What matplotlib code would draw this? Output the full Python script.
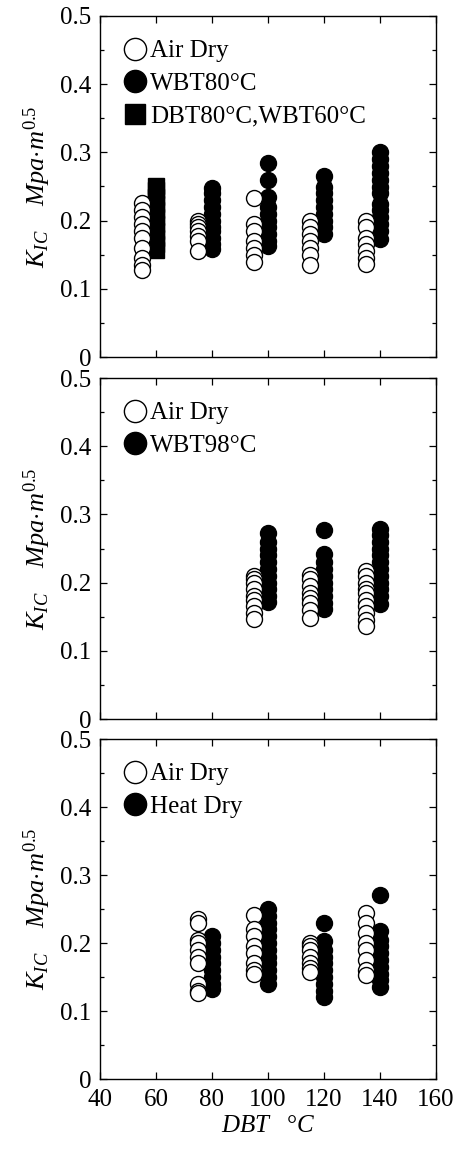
import matplotlib
matplotlib.use("Agg")
import matplotlib.pyplot as plt
from matplotlib.lines import Line2D
from matplotlib.ticker import MultipleLocator

plt.rcParams['font.family'] = ['Liberation Serif', 'DejaVu Serif']
plt.rcParams['mathtext.fontset'] = 'custom'
plt.rcParams['mathtext.rm'] = 'Liberation Serif'
plt.rcParams['mathtext.it'] = 'Liberation Serif:italic'

# ---------------- data ----------------
# Panel 1 : Air Dry / WBT80°C / DBT80°C,WBT60°C
p1_air_x = [55, 75, 95, 115, 135]
p1_air_y = [
    [0.226, 0.215, 0.205, 0.195, 0.185, 0.175, 0.16, 0.145, 0.135, 0.128],
    [0.2, 0.195, 0.19, 0.185, 0.178, 0.17, 0.155],
    [0.233, 0.195, 0.185, 0.17, 0.16, 0.15, 0.14],
    [0.2, 0.19, 0.18, 0.17, 0.16, 0.15, 0.135],
    [0.2, 0.19, 0.175, 0.165, 0.155, 0.145, 0.137],
]
p1_wbt_x = [80, 100, 120, 140]
p1_wbt_y = [
    [0.158, 0.165, 0.175, 0.185, 0.19, 0.2, 0.21, 0.22, 0.23, 0.24, 0.248],
    [0.163, 0.17, 0.18, 0.19, 0.2, 0.21, 0.22, 0.235, 0.26, 0.284],
    [0.18, 0.19, 0.2, 0.21, 0.22, 0.23, 0.24, 0.25, 0.265],
    [0.173, 0.185, 0.195, 0.205, 0.215, 0.225, 0.24, 0.25, 0.26, 0.27, 0.28, 0.29, 0.3],
]
p1_dbt_x = [60]
p1_dbt_y = [
    [0.157, 0.165, 0.175, 0.185, 0.195, 0.205, 0.215, 0.225, 0.235, 0.245, 0.251],
]

# Panel 2 : Air Dry / WBT98°C
p2_air_x = [95, 115, 135]
p2_air_y = [
    [0.21, 0.205, 0.2, 0.19, 0.18, 0.175, 0.165, 0.155, 0.147],
    [0.211, 0.205, 0.195, 0.185, 0.178, 0.17, 0.16, 0.148],
    [0.217, 0.21, 0.2, 0.19, 0.185, 0.175, 0.165, 0.155, 0.145, 0.136],
]
p2_wbt_x = [100, 120, 140]
p2_wbt_y = [
    [0.172, 0.18, 0.19, 0.2, 0.21, 0.22, 0.23, 0.24, 0.25, 0.26, 0.273],
    [0.161, 0.17, 0.18, 0.19, 0.2, 0.21, 0.22, 0.23, 0.242, 0.277],
    [0.169, 0.18, 0.19, 0.2, 0.21, 0.22, 0.23, 0.24, 0.25, 0.26, 0.27, 0.279],
]

# Panel 3 : Air Dry / Heat Dry
p3_air_x = [75, 95, 115, 135]
p3_air_y = [
    [0.235, 0.23, 0.205, 0.2, 0.19, 0.18, 0.17, 0.14, 0.13, 0.126],
    [0.241, 0.22, 0.21, 0.195, 0.185, 0.17, 0.16, 0.154],
    [0.2, 0.195, 0.19, 0.18, 0.17, 0.163, 0.157],
    [0.244, 0.23, 0.215, 0.2, 0.19, 0.175, 0.16, 0.153],
]
p3_heat_x = [80, 100, 120, 140]
p3_heat_y = [
    [0.132, 0.14, 0.15, 0.16, 0.17, 0.18, 0.19, 0.2, 0.21],
    [0.14, 0.15, 0.16, 0.17, 0.18, 0.19, 0.2, 0.21, 0.22, 0.23, 0.24, 0.25],
    [0.12, 0.13, 0.14, 0.15, 0.16, 0.17, 0.18, 0.19, 0.203, 0.229],
    [0.135, 0.145, 0.155, 0.165, 0.175, 0.185, 0.195, 0.205, 0.218, 0.27],
]

x_ticks = [40, 60, 80, 100, 120, 140, 160]
y_ticks = [0, 0.1, 0.2, 0.3, 0.4, 0.5]
y_ticklabels = ['0', '0.1', '0.2', '0.3', '0.4', '0.5']

# ---------------- figure ----------------
W, H = 457, 1149
fig = plt.figure(figsize=(W / 100, H / 100), dpi=100)

def ax_rect(top_px, bot_px):
    left = 100 / W
    width = 336 / W
    return [left, 1 - bot_px / H, width, (bot_px - top_px) / H]

axes = [fig.add_axes(ax_rect(16, 357)),
        fig.add_axes(ax_rect(378, 719)),
        fig.add_axes(ax_rect(739, 1079))]

MS = 11.5   # data marker size (points)
FS = 18

def draw_group(ax, xs, ys, kind):
    for x, col in zip(xs, ys):
        xx = [x] * len(col)
        if kind == 'open':
            ax.plot(xx, col, linestyle='none', marker='o', ms=MS, mfc='white',
                    mec='black', mew=1.0, zorder=4)
        elif kind == 'filled':
            ax.plot(xx, col, linestyle='none', marker='o', ms=MS, mfc='black',
                    mec='black', mew=1.0, zorder=3)
        else:
            ax.plot(xx, col, linestyle='none', marker='s', ms=MS, mfc='black',
                    mec='black', mew=1.0, zorder=3)

draw_group(axes[0], p1_wbt_x, p1_wbt_y, 'filled')
draw_group(axes[0], p1_dbt_x, p1_dbt_y, 'square')
draw_group(axes[0], p1_air_x, p1_air_y, 'open')
draw_group(axes[1], p2_wbt_x, p2_wbt_y, 'filled')
draw_group(axes[1], p2_air_x, p2_air_y, 'open')
draw_group(axes[2], p3_heat_x, p3_heat_y, 'filled')
draw_group(axes[2], p3_air_x, p3_air_y, 'open')

def h_open():
    return Line2D([], [], linestyle='none', marker='o', ms=16, mfc='white', mec='black', mew=1.0)

def h_fill():
    return Line2D([], [], linestyle='none', marker='o', ms=16, mfc='black', mec='black', mew=1.0)

def h_sq():
    return Line2D([], [], linestyle='none', marker='s', ms=14, mfc='black', mec='black', mew=1.0)

legends = [
    ([h_open(), h_fill(), h_sq()], ['Air Dry', 'WBT80°C', 'DBT80°C,WBT60°C']),
    ([h_open(), h_fill()], ['Air Dry', 'WBT98°C']),
    ([h_open(), h_fill()], ['Air Dry', 'Heat Dry']),
]

ylabel = r'$K_{IC}\ \ \ \ Mpa{\cdot}m^{0.5}$'

for i, ax in enumerate(axes):
    ax.set_xlim(40, 160)
    ax.set_ylim(0, 0.5)
    ax.set_xticks(x_ticks)
    ax.set_yticks(y_ticks)
    ax.set_yticklabels(y_ticklabels)
    ax.yaxis.set_minor_locator(MultipleLocator(0.05))
    ax.tick_params(which='both', direction='in', top=True, right=True,
                   labelsize=FS, width=0.9)
    ax.tick_params(which='major', length=5)
    ax.tick_params(axis='y', which='major', pad=6)
    ax.tick_params(axis='x', which='major', pad=7)
    ax.tick_params(which='minor', length=3)
    for sp in ax.spines.values():
        sp.set_linewidth(1.0)
    if i < 2:
        ax.tick_params(axis='x', labelbottom=False)
    ax.set_ylabel(ylabel, fontsize=19, labelpad=5)
    hs, ls = legends[i]
    ax.legend(hs, ls, loc='upper left', bbox_to_anchor=(0.067, 0.93),
              frameon=False, fontsize=FS, handlelength=1.0,
              handletextpad=0.1, labelspacing=0.4, borderpad=0,
              borderaxespad=0)

axes[2].set_xlabel(r'$DBT\quad°C$', fontsize=FS, labelpad=3)

fig.savefig('out.png', dpi=100)
